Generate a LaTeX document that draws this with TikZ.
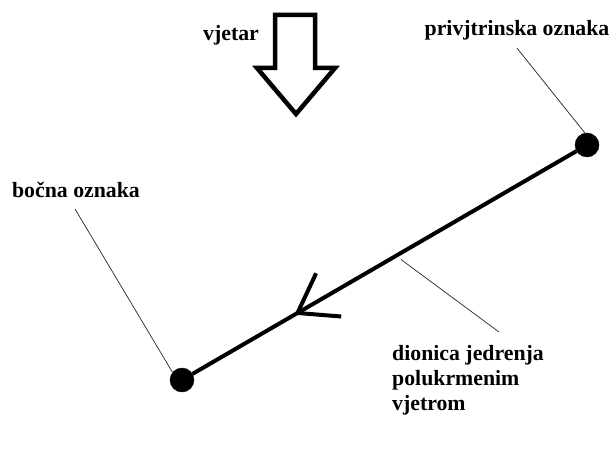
\documentclass[tikz,border=0pt]{standalone}
\usepackage{fontspec}
\setmainfont{Liberation Serif}
\usetikzlibrary{arrows.meta,decorations.markings}
\tikzset{dot/.style={draw, fill=black, circle, inner sep=0pt, minimum size=24pt}}
\tikzset{lbl/.style={font=\bfseries\fontsize{21.8}{25}\selectfont, inner sep=0pt, align=left}}
\tikzset{leader/.style={line width=0.7pt, black!85}}

\begin{document}
\begin{tikzpicture}[x=1pt,y=-1pt]
		\useasboundingbox (0,0) rectangle (616,457);
		% wind arrow
		\draw [line width=4.5pt] (275,15) -- (315,15) -- (315,68) -- (335,68) -- (296,114) -- (257,68) -- (275,68) -- cycle;
		\node [lbl] (wind) at (231,35) {vjetar};
		
		\node [dot] (pdot) at (587,145) {};
		\node [dot] (bdot) at (182,380) {};
		\node [lbl] (plabel) at (517,30) {privjtrinska oznaka};
		\node [lbl] (blabel) at (76,190) {bočna oznaka};
		\node [lbl, anchor=north west] (dlabel) at (392,345) {dionica jedrenja\\polukrmenim\\vjetrom};
		
		\draw [line width=4pt, postaction={decorate}, decoration={markings, mark=at position 326pt with {\arrow{Straight Barb[length=36pt,width=50pt]}}}] (pdot) -- node[coordinate, pos=0.47] (seg) {} (bdot);
		
		\draw [leader] ([yshift=-8pt]plabel.south) -- (pdot.100);
		\draw [leader] ([xshift=-1pt,yshift=-11pt]blabel.south) -- (bdot.141);
		\draw [leader, shorten <=6pt] (seg) -- ([xshift=31pt,yshift=13pt]dlabel.north);
		
\end{tikzpicture}
\end{document}
